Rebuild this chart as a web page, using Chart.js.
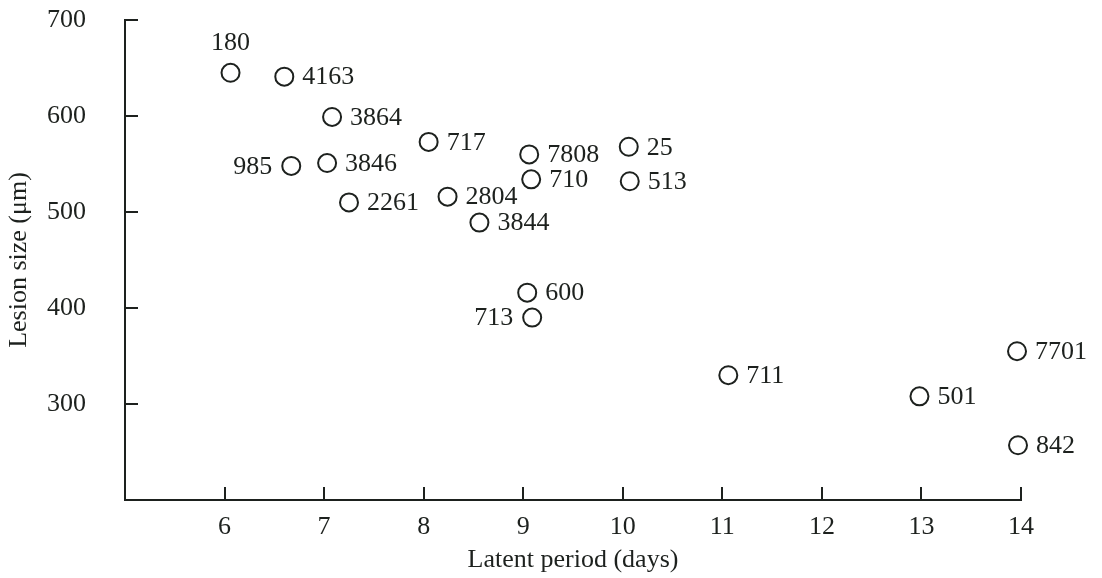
<!DOCTYPE html>
<html>
<head>
<meta charset="utf-8">
<script src="https://cdn.jsdelivr.net/npm/chart.js@4"></script>
<style>
  html, body { margin: 0; padding: 0; background: #fff; }
  canvas { display: block; }
</style>
</head>
<body>
<canvas id="chart" width="1102" height="578"></canvas>
<script>
// isolate numbers, latent period (days) and lesion size (um)
const isolates = ['180', '4163', '3864', '985', '3846', '2261', '717', '2804', '3844', '7808',
                  '710', '25', '513', '600', '713', '711', '501', '7701', '842'];
const latentPeriod = [6.06, 6.6, 7.08, 6.67, 7.03, 7.25, 8.05, 8.24, 8.56, 9.06,
                      9.08, 10.06, 10.07, 9.04, 9.09, 11.06, 12.98, 13.96, 13.97];
const lesionSize = [645, 641, 599, 548, 551, 510, 573, 516, 489, 560,
                    534, 568, 532, 416, 390, 330, 308, 355, 257];
const xTicks = [6, 7, 8, 9, 10, 11, 12, 13, 14];
const yTicks = [300, 400, 500, 600, 700];

const ink = '#1d211e';
const serif = '"Liberation Serif", "DejaVu Serif", serif';

// labels that do not sit to the right of their circle
const labelSide = { '180': 'top', '985': 'left', '713': 'left' };

const pointLabels = {
    id: 'pointLabels',
    afterDatasetsDraw(chart) {
        const ctx = chart.ctx;
        const meta = chart.getDatasetMeta(0);
        ctx.save();
        ctx.font = '26px ' + serif;
        ctx.fillStyle = ink;
        ctx.textBaseline = 'middle';
        meta.data.forEach((pt, i) => {
            const name = isolates[i];
            const side = labelSide[name] || 'right';
            if (side === 'top') {
                ctx.textAlign = 'center';
                ctx.fillText(name, pt.x, pt.y - 30);
            } else if (side === 'left') {
                ctx.textAlign = 'right';
                ctx.fillText(name, pt.x - 19, pt.y + 1);
            } else {
                ctx.textAlign = 'left';
                ctx.fillText(name, pt.x + 18, pt.y + 1);
            }
        });
        ctx.restore();
    }
};

// tick marks point into the plot, not outward
const innerTicks = {
    id: 'innerTicks',
    afterDraw(chart) {
        const ctx = chart.ctx;
        const { x, y } = chart.scales;
        ctx.save();
        ctx.strokeStyle = ink;
        ctx.lineWidth = 2;
        ctx.beginPath();
        xTicks.forEach(v => {
            const px = Math.round(x.getPixelForValue(v));
            ctx.moveTo(px, y.bottom);
            ctx.lineTo(px, y.bottom - 13);
        });
        yTicks.forEach(v => {
            const py = Math.round(y.getPixelForValue(v));
            ctx.moveTo(x.left, py);
            ctx.lineTo(x.left + 13, py);
        });
        ctx.stroke();
        ctx.restore();
    }
};

new Chart(document.getElementById('chart'), {
    type: 'scatter',
    data: {
        datasets: [{
            data: latentPeriod.map((d, i) => ({ x: d, y: lesionSize[i] })),
            clip: false,
            pointStyle: 'circle',
            pointRadius: 9,
            pointHoverRadius: 9,
            pointBorderWidth: 2,
            pointBorderColor: ink,
            pointBackgroundColor: 'rgba(255,255,255,0)'
        }]
    },
    options: {
        responsive: false,
        devicePixelRatio: 1,
        animation: false,
        events: [],
        layout: { padding: { top: 0, right: 81, left: 0, bottom: 0 } },
        plugins: {
            legend: { display: false },
            tooltip: { enabled: false }
        },
        scales: {
            x: {
                type: 'linear',
                min: 5,
                max: 14,
                afterBuildTicks: s => { s.ticks = xTicks.map(v => ({ value: v })); },
                afterFit: s => { s.height = 78; },
                grid: { display: false, drawTicks: false },
                border: { display: true, color: ink, width: 2 },
                ticks: { color: ink, font: { family: serif, size: 26 }, padding: 12 },
                title: {
                    display: true,
                    text: 'Latent period (days)',
                    color: ink,
                    font: { family: serif, size: 26 },
                    padding: 2
                }
            },
            y: {
                type: 'linear',
                min: 200,
                max: 700,
                afterBuildTicks: s => { s.ticks = yTicks.map(v => ({ value: v })); },
                afterFit: s => { s.width = 125; s.paddingTop = 20; },
                grid: { display: false, drawTicks: false },
                border: { display: true, color: ink, width: 2 },
                ticks: { color: ink, font: { family: serif, size: 26 }, padding: 39 },
                title: {
                    display: true,
                    text: 'Lesion size (μm)',
                    color: ink,
                    font: { family: serif, size: 26 },
                    padding: 4
                }
            }
        }
    },
    plugins: [pointLabels, innerTicks]
});
</script>
</body>
</html>
